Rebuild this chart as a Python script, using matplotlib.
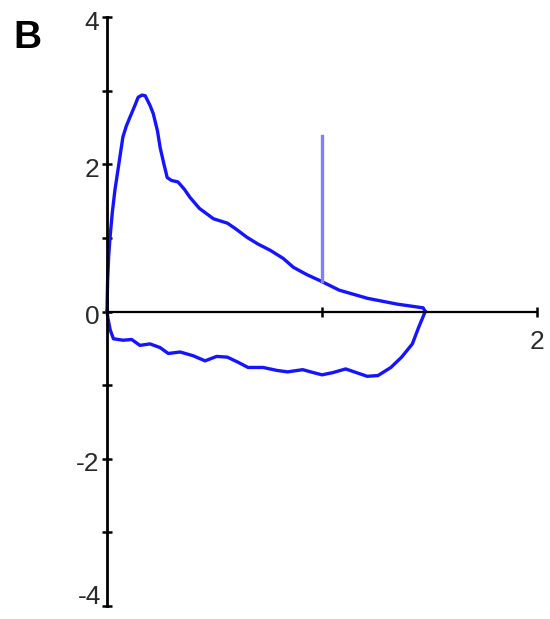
import matplotlib
matplotlib.use("Agg")
import matplotlib.pyplot as plt
import matplotlib.transforms as mtransforms

plt.rcParams["font.family"] = ["Liberation Sans", "DejaVu Sans"]

# expiratory limb (volume, flow)
exp_volume = [0.0, 0.003, 0.008, 0.014, 0.025, 0.037, 0.055, 0.074, 0.09, 0.107, 0.13, 0.145,
              0.163, 0.178, 0.2, 0.215, 0.235, 0.247, 0.265, 0.28, 0.3, 0.33, 0.36, 0.386,
              0.43, 0.495, 0.56, 0.60, 0.65, 0.70, 0.76, 0.82, 0.867, 0.93, 0.99, 1.08,
              1.21, 1.35, 1.47, 1.48]
exp_flow = [0.0, 0.42, 0.75, 1.0, 1.35, 1.65, 2.0, 2.37, 2.52, 2.64, 2.8, 2.91,
            2.94, 2.93, 2.8, 2.69, 2.45, 2.23, 2.0, 1.82, 1.78, 1.76, 1.66, 1.55,
            1.4, 1.26, 1.20, 1.12, 1.01, 0.92, 0.83, 0.72, 0.6, 0.5, 0.42, 0.29,
            0.18, 0.10, 0.05, 0.0]

# inspiratory limb
insp_volume = [0.0, 0.005, 0.015, 0.03, 0.075, 0.115, 0.153, 0.2, 0.247, 0.285, 0.34,
               0.4, 0.456, 0.51, 0.56, 0.61, 0.656, 0.726, 0.79, 0.84, 0.91, 0.96,
               1.0, 1.05, 1.11, 1.16, 1.21, 1.26, 1.32, 1.37, 1.42, 1.45, 1.48]
insp_flow = [0.0, -0.1, -0.25, -0.37, -0.39, -0.38, -0.46, -0.44, -0.49, -0.57, -0.55,
             -0.6, -0.67, -0.61, -0.62, -0.69, -0.76, -0.76, -0.8, -0.82, -0.79, -0.83,
             -0.86, -0.83, -0.78, -0.83, -0.88, -0.87, -0.76, -0.62, -0.44, -0.21, 0.0]

# vertical marker line
marker_volume = [1.0, 1.0]
marker_flow = [0.42, 2.39]

y_ticks = [-4, -3, -2, -1, 0, 1, 2, 3, 4]
y_labels = ["-4", "", "-2", "", "0", "", "2", "", "4"]
x_ticks = [1, 2]
x_labels = ["", "2"]

fig = plt.figure(figsize=(5.5, 6.19), dpi=100)
ax = fig.add_axes([0.1945, 0.021, 0.782, 0.9515])

ax.plot(exp_volume, exp_flow, color="#1414ff", lw=2.4, solid_joinstyle="round", clip_on=False)
ax.plot(insp_volume, insp_flow, color="#1414ff", lw=2.4, solid_joinstyle="round", clip_on=False)
ax.plot(marker_volume, marker_flow, color="#8080ff", lw=2.4)

ax.set_xlim(0, 2)
ax.set_ylim(-4, 4)

for side in ["top", "right"]:
    ax.spines[side].set_visible(False)
ax.spines["left"].set_position(("data", 0))
ax.spines["bottom"].set_position(("data", 0))
ax.spines["left"].set_linewidth(2.0)
ax.spines["bottom"].set_linewidth(1.6)

ax.set_yticks(y_ticks)
ax.set_yticklabels(y_labels)
ax.set_xticks(x_ticks)
ax.set_xticklabels(x_labels)
ax.tick_params(axis="both", direction="inout", length=7, width=1.8,
               labelsize=19, labelcolor="#2a2a2a", pad=2)
ax.tick_params(axis="x", pad=10)

# labels sit a little below their ticks, as in the original
shift_down = mtransforms.ScaledTranslation(0, -4 / 72, fig.dpi_scale_trans)
for lbl in ax.get_yticklabels():
    lbl.set_verticalalignment("center")
    lbl.set_transform(lbl.get_transform() + shift_down)
# bottom label would run off the figure edge, keep it inside
bottom_lbl = ax.get_yticklabels()[0]
bottom_lbl.set_verticalalignment("bottom")
bottom_lbl.set_transform(
    ax.get_yaxis_transform() + mtransforms.ScaledTranslation(-4 / 72, -2 / 72, fig.dpi_scale_trans))
bottom_lbl.set_horizontalalignment("right")

fig.text(0.024, 0.922, "B", fontsize=28, fontweight="bold", color="black")

fig.savefig("out.png", dpi=100)
